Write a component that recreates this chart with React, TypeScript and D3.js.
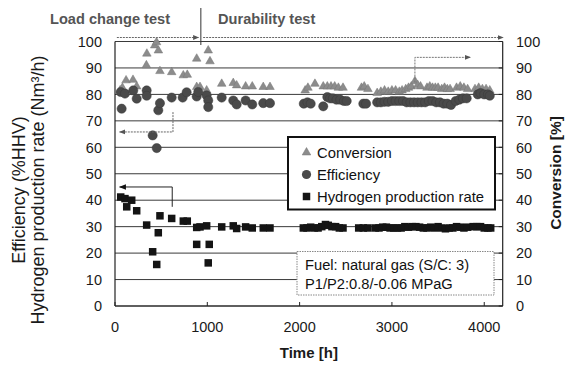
import React from "react";
import * as d3 from "d3";

const xTicks = [0, 1000, 2000, 3000, 4000];
const yTicks = [0, 10, 20, 30, 40, 50, 60, 70, 80, 90, 100];

const conversionData: [number, number][] = [
  [55, 81.5], [80, 82.5], [120, 85.3], [195, 85.5], [235, 83], [340, 91], [345, 95.4], [430, 98.5], [450, 99.7], [470, 96.6],
  [487, 88.8], [614, 88.4], [740, 87.2], [783, 87.4], [885, 93.5], [1010, 96.6], [1029, 92.5], [885, 82.8], [921, 82.8], [993, 81.5],
  [1156, 84], [1281, 84.3], [1318, 83.4], [1415, 83], [1487, 83], [1606, 82.8], [1679, 82.8],
  [2060, 81.5], [2090, 82.5], [2166, 84], [2256, 83], [2300, 83], [2340, 83], [2380, 83], [2420, 82.5], [2470, 82.5],
  [2670, 82.5], [2700, 83], [2740, 82],
  [2840, 80.5], [2880, 81], [2920, 81.5], [2960, 81], [3000, 81.5], [3040, 81.5],
  [3080, 81], [3110, 81.5], [3150, 82], [3180, 82.5], [3210, 83], [3249, 85], [3280, 83.5], [3310, 83], [3380, 82.5], [3410, 83],
  [3440, 82.5], [3470, 82.5], [3500, 82.5], [3540, 82], [3570, 82.5], [3600, 82], [3630, 82],
  [3700, 82.5], [3740, 83], [3780, 82.5], [3820, 82],
  [3900, 82], [3940, 82.5], [3980, 82], [4020, 82], [4060, 81.5],
];

const efficiencyData: [number, number][] = [
  [62, 80.9], [72, 74.6], [108, 80.3], [198, 81.5], [235, 78.4], [343, 81.5], [343, 79.5], [408, 64.5], [452, 59.7], [469, 74],
  [487, 76.7], [614, 78.8], [733, 78.8], [776, 80.8], [885, 79.2], [902, 80.9], [993, 79.6], [1010, 77.7], [1010, 75.2],
  [1156, 78.8], [1281, 77.7], [1318, 76.2], [1415, 77.7], [1487, 76.2], [1606, 76.7], [1679, 76.7],
  [2045, 76.5], [2085, 77], [2120, 76.5], [2256, 75.5], [2300, 79], [2330, 78.5], [2360, 78.5], [2400, 78], [2440, 78], [2480, 77.5], [2510, 77.5],
  [2690, 76.5], [2720, 76.5],
  [2840, 77], [2880, 77], [2920, 77.2], [2960, 77.2], [3000, 77.5], [3040, 77.5], [3080, 77.5],
  [3120, 77.5], [3160, 77], [3200, 77], [3240, 77], [3280, 77], [3320, 77], [3360, 77], [3400, 77.5], [3440, 77.5], [3480, 77],
  [3520, 77], [3560, 76.5], [3600, 76.5], [3640, 76],
  [3690, 77.5], [3730, 78], [3770, 78.5], [3810, 78.5],
  [3930, 80], [3960, 80.5], [4000, 80], [4040, 80], [4060, 79.5],
];

const hydrogenData: [number, number][] = [
  [62, 41.2], [108, 40.6], [127, 37.5], [181, 40], [235, 36], [343, 30.6], [408, 20.5], [452, 15.7], [469, 27.7], [487, 34.1],
  [614, 33.1], [740, 32.1], [783, 32.1], [885, 29.7], [885, 23.3], [921, 29.9], [993, 30.3], [1021, 23.3], [1010, 16.3],
  [1156, 29.9], [1281, 30.3], [1318, 29.3], [1415, 29.9], [1487, 29.5], [1606, 29.5], [1679, 29.5],
  [2040, 29.5], [2080, 29.5], [2120, 29.8], [2160, 29.5], [2200, 29.5], [2240, 30], [2280, 30.8], [2310, 30.5], [2350, 30], [2390, 30], [2430, 29.5], [2470, 29.5],
  [2640, 29.5], [2690, 29.5], [2740, 29.5],
  [2820, 29.5], [2860, 29.5], [2900, 29.8], [2940, 29.8], [2980, 29.5], [3020, 29.5], [3060, 29.5],
  [3100, 29.5], [3140, 30], [3180, 29.8], [3220, 30], [3260, 30], [3300, 29.8], [3340, 29.5], [3380, 29.5], [3420, 29.8], [3460, 29.5],
  [3500, 30], [3540, 29.5], [3580, 29.2], [3620, 29.5], [3660, 29.5],
  [3700, 30], [3740, 29.8], [3780, 29.5], [3820, 29.8],
  [3880, 30], [3920, 30], [3960, 30], [4000, 29.5], [4040, 29.5], [4070, 29.5],
];

const legendLabels = ["Conversion", "Efficiency", "Hydrogen production rate"];
const phaseLabels = ["Load change test", "Durability test"];
const fuelNote = ["Fuel: natural gas (S/C: 3)", "P1/P2:0.8/-0.06 MPaG"];

const FONT = "'Liberation Sans', Arial, Helvetica, sans-serif";
const TRI_FILL = "#8c8c8c";
const CIRC_FILL = "#4a4a4a";
const SQ_FILL = "#141414";

export default function App() {
  const W = 578;
  const H = 365;
  const x = d3.scaleLinear().domain([0, 4200]).range([115, 502.7]);
  const y = d3.scaleLinear().domain([0, 100]).range([306, 41.5]);
  const triPath = d3.symbol().type(d3.symbolTriangle).size(32)() || "";
  const sq = 7.5;
  const r = 4.6;

  const x0 = x(0);
  const x1 = x(4200);
  const yTop = 37.5;

  return (
    <svg width={W} height={H} style={{ position: "absolute", left: 0, top: 0, background: "#fff" }} fontFamily={FONT}>
      <defs>
        <marker id="ahGray" viewBox="0 0 10 10" refX="9" refY="5" markerWidth="6" markerHeight="6" orient="auto-start-reverse" markerUnits="userSpaceOnUse">
          <path d="M0,1 L10,5 L0,9 z" fill="#555" />
        </marker>
        <marker id="ahBlack" viewBox="0 0 10 10" refX="9" refY="5" markerWidth="7" markerHeight="7" orient="auto-start-reverse" markerUnits="userSpaceOnUse">
          <path d="M0,1 L10,5 L0,9 z" fill="#111" />
        </marker>
      </defs>
      <rect width={W} height={H} fill="#fff" />

      {/* gridlines */}
      {yTicks.map((v) => (
        <line key={"g" + v} x1={x0} x2={x1} y1={y(v)} y2={y(v)} stroke="#3a3a3a" strokeWidth={1} />
      ))}
      {/* axes */}
      <line x1={x0} x2={x0} y1={y(100)} y2={y(0)} stroke="#222" strokeWidth={1.2} />
      <line x1={x1} x2={x1} y1={y(100)} y2={y(0)} stroke="#222" strokeWidth={1.2} />
      <line x1={x0} x2={x1} y1={y(0)} y2={y(0)} stroke="#222" strokeWidth={1.2} />
      {xTicks.map((t) => (
        <line key={"xt" + t} x1={x(t)} x2={x(t)} y1={y(0)} y2={y(0) - 4} stroke="#222" />
      ))}
      {yTicks.map((v) => (
        <line key={"rt" + v} x1={x1} x2={x1 - 4} y1={y(v)} y2={y(v)} stroke="#222" />
      ))}

      {/* tick labels */}
      {yTicks.map((v) => (
        <text key={"yl" + v} x={102} y={y(v)} dy="0.36em" textAnchor="end" fontSize={14.5} fill="#1a1a1a">{v}</text>
      ))}
      {yTicks.map((v) => (
        <text key={"yr" + v} x={516} y={y(v)} dy="0.36em" textAnchor="start" fontSize={14.5} fill="#1a1a1a">{v}</text>
      ))}
      {xTicks.map((t) => (
        <text key={"xl" + t} x={x(t)} y={331.5} textAnchor="middle" fontSize={14.5} fill="#1a1a1a">{t}</text>
      ))}

      {/* axis titles */}
      <text x={(x0 + x1) / 2} y={358} textAnchor="middle" fontSize={15} fontWeight="bold" fill="#1a1a1a">Time [h]</text>
      <text transform="translate(25,190) rotate(-90)" textAnchor="middle" fontSize={18} fill="#1a1a1a">Efficiency (%HHV)</text>
      <text transform="translate(44,190) rotate(-90)" textAnchor="middle" fontSize={18} fill="#1a1a1a">Hydrogen production rate (Nm³/h)</text>
      <text transform="translate(561,173) rotate(-90)" textAnchor="middle" fontSize={15.5} fontWeight="bold" fill="#1a1a1a">Conversion [%]</text>

      {/* phase header */}
      <text x={50} y={24} fontSize={14.6} fontWeight="bold" fill="#555">{phaseLabels[0]}</text>
      <text x={218} y={24} fontSize={14.6} fontWeight="bold" fill="#555">{phaseLabels[1]}</text>
      <line x1={x(930)} x2={x(930)} y1={8} y2={45} stroke="#333" strokeWidth={1} />
      <line x1={x(20)} x2={x(905)} y1={yTop} y2={yTop} stroke="#666" strokeWidth={1} strokeDasharray="2 1" markerEnd="url(#ahGray)" />
      <line x1={x(955)} x2={x(4205)} y1={yTop} y2={yTop} stroke="#666" strokeWidth={1} strokeDasharray="2 1" markerEnd="url(#ahGray)" />

      {/* data: conversion */}
      {conversionData.map(([t, v], i) => (
        <path key={"c" + i} d={triPath} transform={`translate(${x(t)},${y(v)})`} fill={TRI_FILL} stroke="#777" strokeWidth={0.5} />
      ))}
      {/* efficiency */}
      {efficiencyData.map(([t, v], i) => (
        <circle key={"e" + i} cx={x(t)} cy={y(v)} r={r} fill={CIRC_FILL} stroke="#3a3a3a" strokeWidth={0.5} />
      ))}
      {/* hydrogen */}
      {hydrogenData.map(([t, v], i) => (
        <rect key={"h" + i} x={x(t) - sq / 2} y={y(v) - sq / 2} width={sq} height={sq} fill={SQ_FILL} />
      ))}

      {/* annotation arrows */}
      <path d={`M${x(628)},${y(73.3)} L${x(628)},${y(65.8)} L${x(50)},${y(65.8)}`} fill="none" stroke="#666" strokeWidth={1} strokeDasharray="2 1" markerEnd="url(#ahGray)" />
      <path d={`M${x(620)},${y(37.5)} L${x(620)},${y(45)} L${x(50)},${y(45)}`} fill="none" stroke="#222" strokeWidth={1} markerEnd="url(#ahBlack)" />
      <path d={`M${x(3249)},${y(84.5)} L${x(3249)},${y(94)} L${x(3850)},${y(94)}`} fill="none" stroke="#777" strokeWidth={1} strokeDasharray="2 1" markerEnd="url(#ahGray)" />

      {/* legend */}
      <rect x={288} y={137} width={207} height={72.5} fill="#fff" stroke="#111" strokeWidth={2} />
      <path d={triPath} transform="translate(306.5,152.5)" fill={TRI_FILL} stroke="#777" strokeWidth={0.5} />
      <circle cx={306.5} cy={174.5} r={r} fill={CIRC_FILL} />
      <rect x={306.5 - sq / 2} y={196.5 - sq / 2} width={sq} height={sq} fill={SQ_FILL} />
      {legendLabels.map((l, i) => (
        <text key={"lg" + i} x={317} y={152.5 + i * 22} dy="0.36em" fontSize={14.8} fill="#111">{l}</text>
      ))}

      {/* fuel note */}
      <rect x={297} y={251.5} width={197} height={43.5} fill="#fff" stroke="#888" strokeWidth={1} strokeDasharray="1.5 1" />
      {fuelNote.map((l, i) => (
        <text key={"fn" + i} x={305} y={270 + i * 18.5} fontSize={14.7} fill="#111">{l}</text>
      ))}
    </svg>
  );
}
